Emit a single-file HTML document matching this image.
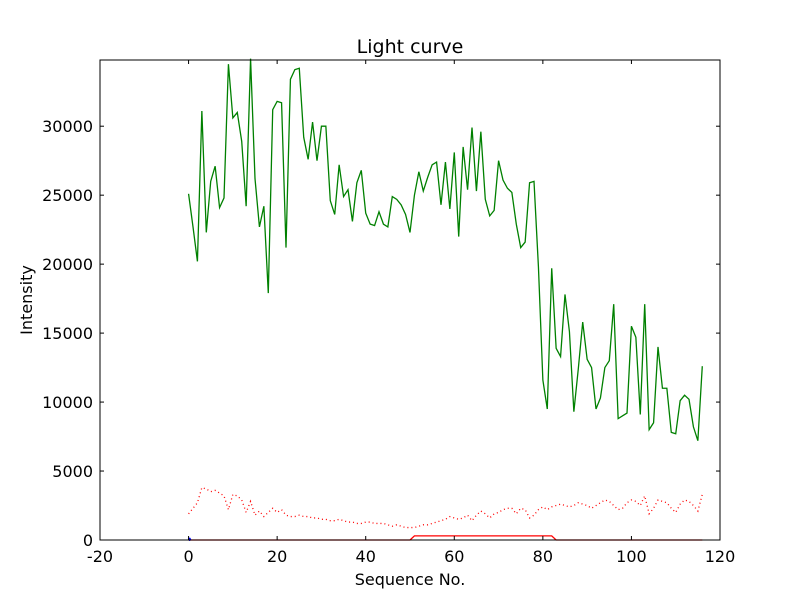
<!DOCTYPE html>
<html><head><meta charset="utf-8"><style>
body{margin:0;background:#fff}
svg text{font-family:"DejaVu Sans","Liberation Sans",sans-serif;fill:#000}
</style></head><body>
<svg id="chart" width="800" height="600" xmlns="http://www.w3.org/2000/svg">
<rect width="800" height="600" fill="#fff"/>
<g id="marks"></g>
<g id="axes"></g>
</svg>
<script>
const greenValues=[25100,22700,20200,31100,22300,26000,27100,24100,24800,34500,30600,31000,28900,24200,34900,26200,22700,24200,17900,31200,31800,31700,21200,33400,34100,34200,29200,27600,30300,27500,30000,30000,24600,23600,27200,24900,25400,23100,25900,26800,23700,22900,22800,23800,22900,22700,24900,24700,24300,23600,22300,25000,26700,25300,26300,27200,27400,24300,27400,24000,28100,22000,28500,25400,29900,25300,29600,24700,23500,23900,27500,26100,25500,25200,22900,21200,21600,25900,26000,19800,11600,9500,19700,13900,13300,17800,15100,9300,12400,15800,13100,12500,9500,10300,12500,13000,17100,8800,9000,9200,15500,14700,9100,17100,8000,8500,14000,11000,11000,7800,7700,10100,10500,10200,8200,7200,12600];
const redDotValues=[1900,2300,2700,3800,3700,3500,3600,3400,3200,2200,3300,3200,2900,2000,2800,1800,2100,1700,2000,2300,2000,2200,1800,1700,1700,1800,1700,1700,1600,1600,1500,1500,1400,1400,1500,1400,1300,1300,1200,1200,1300,1300,1200,1200,1200,1100,1000,1100,1000,900,900,900,1000,1100,1100,1200,1300,1400,1500,1700,1600,1500,1600,1800,1400,1800,2100,1900,1600,1900,2000,2200,2300,2300,1900,2300,2200,1600,1800,2200,2400,2200,2400,2500,2600,2500,2400,2500,2700,2600,2500,2300,2500,2700,2900,2800,2500,2200,2300,2700,2900,2800,2500,3200,1900,2300,2900,2800,2700,2300,2000,2600,2900,2800,2500,2100,3300];
const redStepX=[0,50,51,82,83,116];
const redStepValues=[0,0,300,300,0,0];
const blueX=[0,0.5];
const blueValues=[0,100];
const xTicks=[-20,0,20,40,60,80,100,120];
const yTicks=[0,5000,10000,15000,20000,25000,30000];
const xMin=-20,xMax=120,yMin=0,yMax=34800;
const L=100,R=720,T=60,B=540;
function sx(v){return L+(v-xMin)/(xMax-xMin)*(R-L);}
function sy(v){return B-(v-yMin)/(yMax-yMin)*(B-T);}
const NS="http://www.w3.org/2000/svg";
function mk(tag,attrs,parent){const e=document.createElementNS(NS,tag);for(const k in attrs)e.setAttribute(k,attrs[k]);parent.appendChild(e);return e;}
const marks=document.getElementById('marks'),axes=document.getElementById('axes');
const cp=mk('clipPath',{id:'clip'},marks);
mk('rect',{x:L,y:T-2,width:R-L,height:B-T+3},cp);
const g=mk('g',{'clip-path':'url(#clip)'},marks);
let p=mk('polyline',{points:redDotValues.map((v,i)=>sx(i)+','+sy(v)).join(' '),fill:'none',stroke:'#ff0000','stroke-width':1.3,'stroke-dasharray':'1,3'},g);


p=mk('polyline',{points:redStepValues.map((v,i)=>sx(redStepX[i])+','+sy(v)).join(' '),fill:'none',stroke:'#ff0000','stroke-width':1.3},g);


p=mk('polyline',{points:blueValues.map((v,i)=>sx(blueX[i])+','+sy(v)).join(' '),fill:'none',stroke:'#0000ff','stroke-width':3},g);


p=mk('polyline',{points:greenValues.map((v,i)=>sx(i)+','+sy(v)).join(' '),fill:'none',stroke:'#008000','stroke-width':1.3},g);


let fr=mk('rect',{x:L,y:T,width:R-L,height:B-T,fill:'none',stroke:'#000','stroke-width':1},axes);


xTicks.forEach(t=>{const x=sx(t);
mk('line',{x1:x,x2:x,y1:B,y2:B-4,stroke:'#000'},axes);
mk('line',{x1:x,x2:x,y1:T,y2:T+4,stroke:'#000'},axes);
const tx=mk('text',{x:x,y:B+22,'text-anchor':'middle','font-size':16},axes);tx.textContent=t;

});
yTicks.forEach(t=>{const y=sy(t);
mk('line',{x1:L,x2:L+4,y1:y,y2:y,stroke:'#000'},axes);
mk('line',{x1:R,x2:R-4,y1:y,y2:y,stroke:'#000'},axes);
const tx=mk('text',{x:L-7,y:y+6,'text-anchor':'end','font-size':16},axes);tx.textContent=t;

});
let t=mk('text',{x:410,y:53,'text-anchor':'middle','font-size':19},axes);t.textContent='Light curve';


t=mk('text',{x:410,y:585,'text-anchor':'middle','font-size':16},axes);t.textContent='Sequence No.';


t=mk('text',{x:32,y:300,'text-anchor':'middle','font-size':16,transform:'rotate(-90 32 300)'},axes);t.textContent='Intensity';


</script>
</body></html>
